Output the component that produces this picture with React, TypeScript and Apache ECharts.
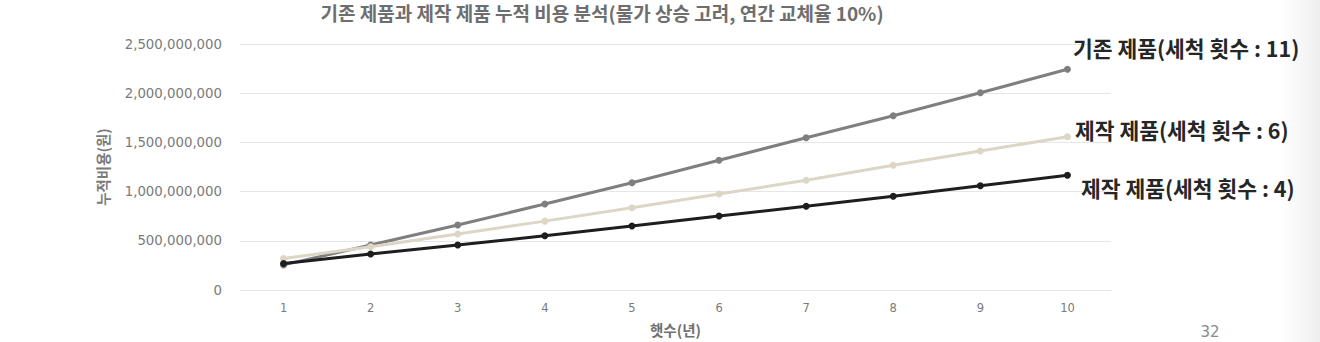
import React, { useEffect, useRef } from "react";
import * as echarts from "echarts";

const title = "기존 제품과 제작 제품 누적 비용 분석(물가 상승 고려, 연간 교체율 10%)";
const categories = ["1", "2", "3", "4", "5", "6", "7", "8", "9", "10"];
const existingName = "기존 제품(세척 횟수 : 11)";
const existingValues = [255e6, 457e6, 660e6, 874e6, 1090e6, 1318e6, 1548e6, 1771e6, 2005e6, 2243e6];
const made6Name = "제작 제품(세척 횟수 : 6)";
const made6Values = [320e6, 440e6, 570e6, 700e6, 836e6, 976e6, 1115e6, 1267e6, 1413e6, 1558e6];
const made4Name = "제작 제품(세척 횟수 : 4)";
const made4Values = [270e6, 366e6, 457e6, 552e6, 650e6, 752e6, 851e6, 952e6, 1060e6, 1166e6];
const yAxisName = "누적비용(원)";
const xAxisName = "햇수(년)";
const pageNumber = "32";

const labelFont = "'Noto Sans CJK KR', sans-serif";
const tickFont = "'DejaVu Sans', sans-serif";

function withEndLabel(values: number[], name: string, offsetY: number, distance: number) {
  return values.map((v, i) =>
    i === values.length - 1
      ? {
          value: v,
          label: {
            show: true,
            position: "right",
            distance,
            offset: [0, offsetY],
            formatter: name,
            color: "#262626",
            fontFamily: labelFont,
            fontWeight: "bold",
            fontSize: 21.5,
          },
        }
      : v
  );
}

export default function App() {
  const ref = useRef<HTMLDivElement>(null);
  useEffect(() => {
    if (!ref.current) return;
    const chart = echarts.init(ref.current, null, { renderer: "svg" });
    const mk = (name: string, data: any[], color: string, z: number) => ({
      name,
      type: "line",
      data,
      z,
      symbol: "circle",
      symbolSize: 7,
      lineStyle: { color, width: 3 },
      itemStyle: { color },
      label: { show: false },
    });
    chart.setOption({
      animation: false,
      backgroundColor: "#ffffff",
      title: {
        text: title,
        left: 602,
        textAlign: "center",
        top: 2,
        padding: 0,
        textStyle: {
          fontFamily: labelFont,
          fontWeight: "bold",
          fontSize: 19,
          lineHeight: 20,
          color: "#6e6e6e",
        },
      },
      graphic: [
        {
          type: "rect",
          z: -10,
          shape: { x: 1280, y: 0, width: 40, height: 342 },
          style: {
            fill: new echarts.graphic.LinearGradient(0, 0, 1, 0, [
              { offset: 0, color: "rgba(240,240,240,0)" },
              { offset: 1, color: "rgba(238,238,238,1)" },
            ]),
          },
          silent: true,
        },
        {
          type: "text",
          x: 1210,
          y: 332,
          style: {
            text: pageNumber,
            fill: "#8a8a8a",
            font: "15px 'DejaVu Sans', sans-serif",
            align: "center",
            verticalAlign: "middle",
          },
        },
      ],
      grid: {
        left: 240,
        right: 209,
        top: 44,
        bottom: 52,
        containLabel: false,
        outerBoundsMode: "none",
      },
      xAxis: {
        type: "category",
        data: categories,
        boundaryGap: true,
        name: xAxisName,
        nameLocation: "middle",
        nameGap: 32,
        nameTextStyle: { fontFamily: labelFont, fontWeight: "bold", fontSize: 14.5, color: "#707070" },
        axisLine: { show: true, lineStyle: { color: "#e6e6e6", width: 1 } },
        axisTick: { show: false },
        axisLabel: { color: "#7a7a7a", fontFamily: tickFont, fontSize: 11.5, margin: 12 },
      },
      yAxis: {
        type: "value",
        min: 0,
        max: 2500000000,
        interval: 500000000,
        name: yAxisName,
        nameLocation: "middle",
        nameGap: 130,
        nameRotate: 90,
        nameTextStyle: { fontFamily: labelFont, fontWeight: "bold", fontSize: 14.5, color: "#7a7a7a" },
        axisLine: { show: false },
        axisTick: { show: false },
        splitLine: { lineStyle: { color: "#e6e6e6", width: 1 } },
        axisLabel: {
          color: "#7a7a7a",
          fontFamily: tickFont,
          fontSize: 13.3,
          margin: 18,
          formatter: (v: number) => v.toLocaleString("en-US"),
        },
      },
      series: [
        mk(existingName, withEndLabel(existingValues, existingName, -22, 2), "#7f7f7f", 2),
        mk(made6Name, withEndLabel(made6Values, made6Name, -7, 4), "#ddd6c6", 3),
        mk(made4Name, withEndLabel(made4Values, made4Name, 12, 10), "#1e1e1e", 4),
      ],
    });
    return () => chart.dispose();
  }, []);
  return (
    <div
      ref={ref}
      style={{ position: "fixed", left: 0, top: 0, width: 1320, height: 342 }}
    />
  );
}
